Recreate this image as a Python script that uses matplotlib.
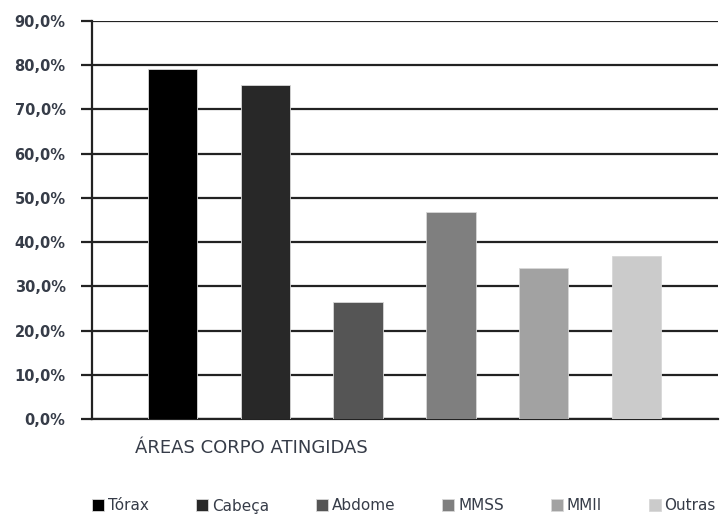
import matplotlib.pyplot as plt
from matplotlib.ticker import FuncFormatter

plt.rcParams["font.family"] = ["DejaVu Sans"]

# Áreas do corpo atingidas (% dos casos)
areas = ["Tórax", "Cabeça", "Abdome", "MMSS", "MMII", "Outras"]
percentuais = [79.1, 75.5, 26.5, 46.9, 34.1, 36.8]
tons = ["#000000", "#282828", "#555555", "#7f7f7f", "#a2a2a2", "#cbcbcb"]
rotulo_categoria = "ÁREAS CORPO ATINGIDAS"
cor_texto = "#363c48"

fig = plt.figure(figsize=(7.23, 5.19), dpi=100)
ax = fig.add_axes([0.1272, 0.1927, 0.8659, 0.7668])

posicoes = range(len(areas))
for pos, valor, tom, nome in zip(posicoes, percentuais, tons, areas):
    ax.bar(pos, valor, width=0.53, color=tom, edgecolor="#d8d8d8",
           linewidth=0.6, label=nome, zorder=3)

ax.set_xlim(-0.866, 5.876)
ax.set_ylim(0, 90)
ax.set_yticks(range(0, 91, 10))
ax.yaxis.set_major_formatter(FuncFormatter(lambda v, _: f"{v:.1f}%".replace(".", ",")))
ax.grid(axis="y", color="#222222", linewidth=1.6, zorder=1)
ax.set_xticks([])

for lado in ("top", "right"):
    ax.spines[lado].set_visible(False)
for lado in ("left", "bottom"):
    ax.spines[lado].set_linewidth(1.6)
    ax.spines[lado].set_color("#222222")
ax.tick_params(axis="y", direction="out", length=8, width=1.6, color="#222222",
               labelsize=10.5, labelcolor=cor_texto, pad=11)
for rotulo in ax.get_yticklabels():
    rotulo.set_fontweight("bold")

fig.text(135 / 723, 1 - 448 / 519, rotulo_categoria, fontsize=13,
         color=cor_texto, ha="left", va="center")

fig.legend(loc="center", bbox_to_anchor=(92 / 723, 1 - 514 / 519, 624 / 723, 16 / 519),
           mode="expand", ncol=6, frameon=False, fontsize=11, handlelength=0.8,
           handleheight=0.8, handletextpad=0.25, borderaxespad=0, borderpad=0,
           labelcolor=cor_texto)

fig.savefig("out.png", dpi=100)
